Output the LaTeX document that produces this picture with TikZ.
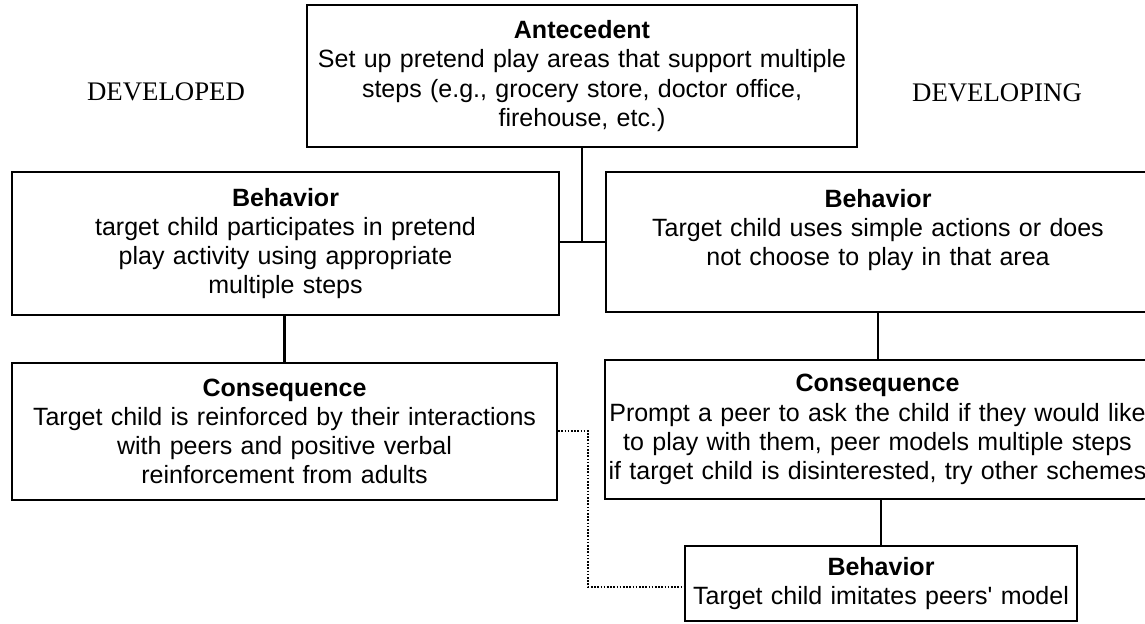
\documentclass[tikz,border=0pt]{standalone}
\usepackage{fontspec}
\setmainfont{Liberation Sans}
\newfontfamily\sidefont{Liberation Serif}
\usepackage{tikz}
\usetikzlibrary{calc}
\tikzstyle{box} = [rectangle, draw, line width=1.1pt, inner sep=0pt, align=center, font=\fontsize{12.5}{14.6}\selectfont]
\tikzstyle{side} = [font=\sidefont\fontsize{13.4}{16}\selectfont]
\tikzstyle{link} = [line width=1.1pt]
\tikzstyle{hint} = [line width=0.8pt, dash pattern=on 0.8pt off 0.8pt]

\begin{document}
\begin{tikzpicture}[x=0.5pt,y=-0.5pt]
	\useasboundingbox (0,0) rectangle (1145,624);
	\clip (0,0) rectangle (1145,624);
	\node[box, text width=275pt, minimum height=71pt] (ant) at (582,76) {\textbf{Antecedent}\\Set up pretend play areas that support multiple\\steps (e.g., grocery store, doctor office,\\firehouse, etc.)};
	\node[side] (dvd) at (166,92) {DEVELOPED};
	\node[side] (dvg) at (997,93) {DEVELOPING};
	%%%%%%%%%%%%%%%%%%%%%%%%%%%%%%%%%%
	\node[box, text width=273.5pt, minimum height=71.5pt] (lbeh) at (285.5,243.5) {\textbf{Behavior}\\target child participates in pretend\\play activity using appropriate\\multiple steps};
	\node[box, text width=272pt, minimum height=70pt] (rbeh) at (878,242) {\textbf{Behavior}\\Target child uses simple actions or does\\not choose to play in that area\\\mbox{}};
	\node[box, text width=272.5pt, minimum height=68.5pt] (lcon) at (284.5,431.5) {\textbf{Consequence}\\Target child is reinforced by their interactions\\with peers and positive verbal\\reinforcement from adults};
	\node[box, text width=272.5pt, minimum height=69.5pt] (rcon) at (877.5,429.5) {\textbf{Consequence}\\Prompt a peer to ask the child if they would like\\to play with them, peer models multiple steps\\if target child is disinterested, try other schemes};
	\node[box, text width=196pt, minimum height=37.5pt] (bbeh) at (881,583.5) {\textbf{Behavior}\\Target child imitates peers\textquotesingle{} model};
	%%%%%%%%%%%%%%%%%%%%%%%%%%%%%%%%%%
	\coordinate (j) at (582,242);
	\coordinate (d1) at (588,431);
	\coordinate (d2) at (588,587);
	\draw[link] (ant.south) -- (j);
	\draw[link] (lbeh.east |- j) -- (rbeh.west |- j);
	\draw[link] (lcon.north |- lbeh.south) -- (lcon.north);
	\draw[link] (rbeh.south) -- (rbeh.south |- rcon.north);
	\draw[link] (bbeh.north |- rcon.south) -- (bbeh.north);
	\draw[hint] (lcon.east |- d1) -- (d1) -- (d2) -- (bbeh.west |- d2);
\end{tikzpicture}
\end{document}
